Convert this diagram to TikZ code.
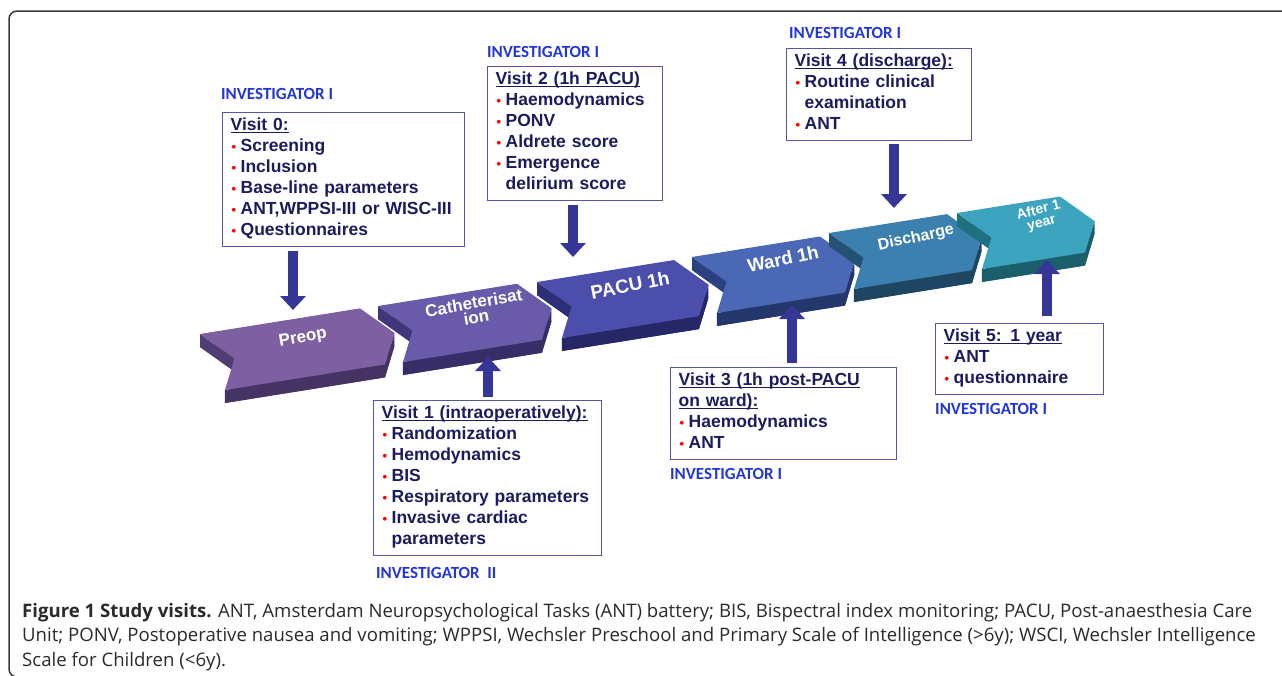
\documentclass[tikz,border=0pt]{standalone}
\usepackage{fontspec}
\setmainfont{Liberation Sans}
\newfontfamily\invfont{Carlito}
\newfontfamily\capfont{Open Sans}
\usetikzlibrary{arrows.meta}

\definecolor{navytext}{HTML}{1B1B5E}
\definecolor{boxline}{HTML}{5555A5}
\definecolor{invblue}{HTML}{2236D8}
\definecolor{arrowblue}{HTML}{363696}
\definecolor{captext}{HTML}{2A2A2A}
\definecolor{framegray}{HTML}{3A3A3A}
\definecolor{preopface}{HTML}{7E60A2}
\definecolor{preopside}{HTML}{513D75}
\definecolor{cathface}{HTML}{6A5AAA}
\definecolor{cathside}{HTML}{41367A}
\definecolor{pacuface}{HTML}{4B4EAA}
\definecolor{pacuside}{HTML}{2C2E78}
\definecolor{wardface}{HTML}{4A68B6}
\definecolor{wardside}{HTML}{2B4180}
\definecolor{dischface}{HTML}{3B80AE}
\definecolor{dischside}{HTML}{235274}
\definecolor{afterface}{HTML}{3CA4BE}
\definecolor{afterside}{HTML}{21707F}

\newcommand\rowstrut{\rule[-5pt]{0pt}{16pt}}
\newcommand\vhead[1]{\rowstrut\setbox0\hbox{#1}\rlap{\rule[-2.6pt]{\wd0}{1.3pt}}\box0}
\newcommand\vitem[1]{\rowstrut\makebox[10pt][l]{\hspace{1pt}\textcolor{red}{\raisebox{0.5pt}{\fontsize{13}{13}\selectfont\textbullet}}}\mbox{#1}}
\newcommand\vmore[1]{\rowstrut\hspace*{10pt}\mbox{#1}}

\tikzset{
pics/chevron/.style n args={3}{code={
  \begin{scope}[x={(1pt,0.16pt)},y={(0.446pt,-1pt)}]
    \fill[#3,yshift=-13pt] (0,0) -- (22,28) -- (0,56) -- (#1,56) -- (#1+22,28) -- (#1,0) -- cycle;
    \fill[#3] (0,0) -- (22,28) -- ([yshift=-13pt]22,28) -- ([yshift=-13pt]0,0) -- cycle;
    \fill[#3!85!black] (0,56) -- (#1,56) -- (#1+22,28) -- ([yshift=-13pt]#1+22,28)
      -- ([yshift=-13pt]#1,56) -- ([yshift=-13pt]0,56) -- cycle;
    \fill[#2] (0,0) -- (22,28) -- (0,56) -- (#1,56) -- (#1+22,28) -- (#1,0) -- cycle;
  \end{scope}
  }}
}

\begin{document}
\begin{tikzpicture}[x=1pt,y=-1pt,
  box/.style={draw=boxline, line width=1.3pt, anchor=north west, inner xsep=8pt,
    inner ysep=5.5pt, align=left, text=navytext, font=\fontsize{17.5}{21}\selectfont\bfseries},
  who/.style={anchor=base west, inner sep=0pt, text=invblue,
    font=\invfont\bfseries\fontsize{17}{17}\selectfont},
  visit arrow/.style={draw=arrowblue, line width=10pt, -{Triangle[width=25pt,length=14pt]}},
  chevtext/.style={text=white, align=center, inner sep=1pt, font=\bfseries\fontsize{17}{17}\selectfont}]
\useasboundingbox (0,0) rectangle (1282,675);

% frame
\draw[framegray, line width=1.5pt, rounded corners=8pt] (1284,11) -- (9,11) -- (9,677) -- (20,677);

% time line
\pic at (200,334) {chevron={160}{preopface}{preopside}};
\pic at (378,306) {chevron={139}{cathface}{cathside}};
\pic at (537,282) {chevron={137}{pacuface}{pacuside}};
\pic at (692,257) {chevron={128}{wardface}{wardside}};
\pic at (829,233) {chevron={118}{dischface}{dischside}};
\pic at (957,213) {chevron={103}{afterface}{afterside}};

\node[chevtext, rotate=10] (preop) at (303,338) {Preop};
\node[chevtext, rotate=10, font=\bfseries\fontsize{17}{15}\selectfont] (cath) at (475,310) {Catheterisat\\ion};
\node[chevtext, rotate=11, font=\bfseries\fontsize{19}{19}\selectfont] (pacu) at (630,285) {PACU 1h};
\node[chevtext, rotate=12, font=\bfseries\fontsize{18.5}{18}\selectfont] (ward) at (783,259) {Ward 1h};
\node[chevtext, rotate=12, font=\bfseries\fontsize{16}{16}\selectfont] (disch) at (916,238) {Discharge};
\node[chevtext, rotate=14, font=\bfseries\fontsize{14}{13}\selectfont] (after) at (1040,217) {After 1\\year};

% visits
\node[who] (i0) at (221,99) {INVESTIGATOR I};
\node[box, text width=226pt] (v0) at (222,112) {\vhead{Visit 0:}\\
  \vitem{Screening}\\ \vitem{Inclusion}\\ \vitem{Base-line parameters}\\
  \vitem{ANT,WPPSI-III or WISC-III}\\ \vitem{Questionnaires}};

\node[who] (i2) at (487,57) {INVESTIGATOR I};
\node[box, text width=159pt] (v2) at (487,66) {\vhead{Visit 2 (1h PACU)}\\
  \vitem{Haemodynamics}\\ \vitem{PONV}\\ \vitem{Aldrete score}\\
  \vitem{Emergence}\\ \vmore{delirium score}};

\node[who] (i4) at (789,38) {INVESTIGATOR I};
\node[box, text width=169pt] (v4) at (786,48) {\vhead{Visit 4 (discharge):}\\
  \vitem{Routine clinical}\\ \vmore{examination}\\ \vitem{ANT}};

\node[box, text width=212pt] (v1) at (373,400) {\vhead{Visit 1 (intraoperatively):}\\
  \vitem{Randomization}\\ \vitem{Hemodynamics}\\ \vitem{BIS}\\
  \vitem{Respiratory parameters}\\ \vitem{Invasive cardiac}\\ \vmore{parameters}};
\node[who] (i1) at (376,578) {INVESTIGATOR\ \ II};

\node[box, text width=210pt] (v3) at (670,367) {\vhead{Visit 3 (1h post-PACU}\\
  \vhead{on ward):}\\ \vitem{Haemodynamics}\\ \vitem{ANT}};
\node[who] (i3) at (670,479) {INVESTIGATOR I};

\node[box, text width=152pt] (v5) at (935,323) {\vhead{Visit 5: 1 year}\\
  \vitem{ANT}\\ \vitem{questionnaire}};
\node[who] (i5) at (935,414) {INVESTIGATOR I};

% arrows
\coordinate (t0) at (293,310);
\coordinate (t2) at (573,257);
\coordinate (t4) at (894,208);
\coordinate (t1) at (488,357);
\coordinate (t3) at (792,305);
\coordinate (t5) at (1047,260);
\draw[visit arrow, shorten <=4pt] (t0 |- v0.south) -- (t0);
\draw[visit arrow, shorten <=4pt] (t2 |- v2.south) -- (t2);
\draw[visit arrow, shorten <=3pt] (t4 |- v4.south) -- (t4);
\draw[visit arrow, shorten <=3pt] (t1 |- v1.north) -- (t1);
\draw[visit arrow, shorten <=4pt] (t3 |- v3.north) -- (t3);
\draw[visit arrow, shorten <=7pt] (t5 |- v5.north) -- (t5);

% caption
\node[anchor=north west, inner sep=0pt, align=left, text=captext,
  font=\capfont\fontsize{18.6}{24.5}\selectfont] (cap) at (22,603)
  {{\bfseries Figure 1 Study visits.} ANT, Amsterdam Neuropsychological Tasks (ANT) battery; BIS, Bispectral index monitoring; PACU, Post-anaesthesia Care\\
   Unit; PONV, Postoperative nausea and vomiting; WPPSI, Wechsler Preschool and Primary Scale of Intelligence (>6y); WSCI, Wechsler Intelligence\\
   Scale for Children (<6y).};
\end{tikzpicture}
\end{document}
